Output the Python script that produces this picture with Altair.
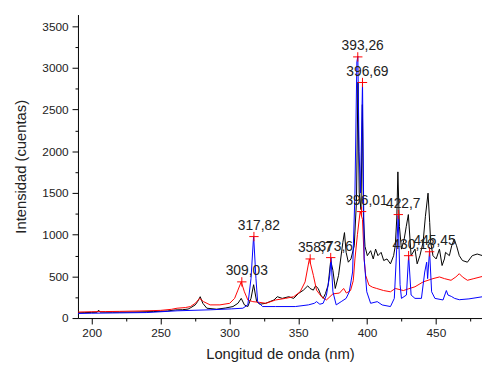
import altair as alt
import pandas as pd

# ---- data ----
black_nm = [190, 195, 200, 204, 205, 206, 215, 230, 245, 255, 261, 266, 270, 272, 275.2, 277, 278.8, 280.7, 283.6, 290.7,
            297, 302.6, 306.2, 308.6, 310.9, 313.4, 315.7, 317.6, 319.8, 322.1, 326.4, 332.4, 334.8, 338.4, 343.1, 346.7,
            350.2, 353.8, 356.9, 358.6, 361, 362.6, 364.5, 366.4, 368.1, 369.8, 371.7, 373.6, 375.2, 376.9, 379.3, 382.4,
            383.6, 384.8, 386.4, 388.3, 390.7, 392.3, 393.4, 394.3, 395.6, 396.6, 397.4, 398.5, 400.2, 402.6, 404.5, 406.2,
            407.9, 410.2, 412.1, 414.5, 417, 419.3, 420.5, 421.6, 422.4, 423.5, 425, 427, 428.5, 430, 432, 434.8, 436.4,
            438.4, 440.7, 442.4, 444.3, 445.5, 446.2, 447.9, 450.2, 452.6, 454.5, 456.2, 457, 459.8, 461.5, 463.3, 465,
            467, 469.3, 472.9, 476.4, 480, 484]
black_I = [62, 65, 68, 70, 95, 72, 70, 72, 78, 85, 98, 100, 108, 125, 158, 200, 256, 177, 118, 106,
           120, 138, 177, 236, 158, 138, 236, 400, 197, 166, 177, 217, 256, 236, 256, 236,
           295, 335, 386, 355, 335, 386, 355, 276, 236, 295, 394, 690, 571, 355, 512, 906,
           1025, 788, 670, 709, 867, 1400, 2830, 1500, 1300, 2560, 1200, 860, 748, 808, 709, 827,
           748, 788, 690, 709, 650, 748, 867, 1200, 1753, 1100, 827, 950, 1100, 1241, 748, 827, 650,
           748, 910, 1221, 1498, 1146, 910, 748, 709, 827, 630, 709, 788, 748, 867, 945, 867,
           748, 690, 670, 748, 768, 748]

red_nm = [190, 200, 210, 220, 235, 250, 258, 262, 268, 271.7, 275.2, 278.4, 281.2, 286, 293.1, 300.2, 303.8, 306.2,
          308.6, 310.9, 313.4, 317, 321.6, 326.4, 333.6, 340.7, 346.7, 351.4, 355, 358.1, 361, 363.3, 366.9, 370.5,
          375.2, 380, 383, 385, 388, 390, 391.2, 393, 395, 396.7, 397.9, 399, 401.4, 404, 407, 412, 417, 420.5,
          426.4, 430, 434.8, 440.7, 447.9, 452.6, 456.2, 461, 464.5, 467, 469.3, 472.9, 477.6, 484]
red_I = [72, 76, 78, 80, 85, 92, 105, 118, 126, 138, 177, 236, 197, 158, 158, 177, 236, 335,
         434, 315, 217, 197, 189, 177, 217, 236, 256, 315, 434, 709, 512, 335, 256, 217,
         290, 300, 355, 300, 330, 450, 709, 1000, 1280, 1182, 709, 512, 394, 370, 355, 330, 315, 355,
         330, 350, 375, 433, 473, 493, 473, 453, 493, 532, 493, 453, 473, 500]

blue_nm = [190, 200, 220, 240, 262, 286, 301.4, 309.8, 313.4, 315.7, 317.6, 319.3, 320.5, 324.1, 333.6, 347.9, 357.4,
           361.7, 363.3, 365.7, 368.1, 370.5, 372.9, 373.8, 375.2, 377.6, 381.2, 384.8, 387.1, 389.5, 391.2, 392.6,
           393.3, 394.2, 395.2, 396.7, 397.9, 399.8, 402.6, 407.4, 411, 417, 419.8, 421.2, 422.6, 424, 425, 428.6,
           430.2, 432, 434.8, 439.5, 441.9, 443.3, 444, 445.4, 446.9, 449.3, 455.2, 457.6, 458.8, 461.2, 463.6, 467,
           474, 484]
blue_I = [55, 58, 62, 66, 87, 99, 110, 118, 158, 473, 985, 473, 197, 138, 138, 138, 158,
          177, 197, 166, 177, 276, 512, 720, 315, 158, 197, 236, 315, 552, 1498, 3073,
          3140, 2000, 1500, 2830, 709, 315, 177, 197, 157, 138, 236, 709, 1230, 400, 236, 276,
          748, 276, 236, 236, 552, 670, 473, 808, 315, 236, 217, 330, 276, 260, 236, 220,
          230, 256]

peak_nm = [309.03, 317.82, 358.7, 373.6, 393.26, 396.69, 396.01, 422.7, 430.18, 445.45]
peak_I = [434, 977, 709, 725, 3132, 2825, 1277, 1241, 748, 795]
peak_label = ["309,03", "317,82", "358,7", "373,6", "393,26", "396,69", "396,01", "422,7", "430,18", "445,45"]

x_major = [200, 250, 300, 350, 400, 450]
x_minor = [225, 275, 325, 375, 425, 475]
y_major = [0, 500, 1000, 1500, 2000, 2500, 3000, 3500]
y_minor = [250, 750, 1250, 1750, 2250, 2750, 3250]

FONT = "Liberation Sans"

def series(nm, inten):
    return pd.DataFrame({"nm": nm, "I": inten})

xs = alt.Scale(domain=[190, 483.5], nice=False, zero=False)
ys = alt.Scale(domain=[0, 3640], nice=False)

x_ax = alt.Axis(values=x_major, title="Longitud de onda (nm)", tickSize=6, labelPadding=4, format="d",
                titlePadding=8, grid=False, orient="bottom", labelFlush=False)
y_ax = alt.Axis(values=y_major, title="Intensidad (cuentas)", tickSize=6, labelPadding=4, format="d",
                titlePadding=14, grid=False, orient="left")

def line(df, color, with_axis=False):
    return alt.Chart(df).mark_line(color=color, strokeWidth=1, clip=True).encode(
        x=alt.X("nm:Q", scale=xs, axis=x_ax if with_axis else None),
        y=alt.Y("I:Q", scale=ys, axis=y_ax if with_axis else None),
    )

minor = alt.Chart(series(x_minor, y_minor[:6])).mark_point(opacity=0).encode(
    x=alt.X("nm:Q", scale=xs, axis=alt.Axis(values=x_minor, labels=False, tickSize=3, domain=False,
                                             grid=False, title=None, orient="bottom")),
    y=alt.Y("I:Q", scale=ys, axis=alt.Axis(values=y_minor, labels=False, tickSize=3, domain=False,
                                            grid=False, title=None, orient="left")),
)

peaks = pd.DataFrame({"nm": peak_nm, "I": peak_I, "label": peak_label})

marks = alt.Chart(peaks).mark_point(shape="M-1,0L1,0M0,-1L0,1", filled=False, color="#ff0000",
                                    strokeWidth=1, size=90, opacity=1).encode(
    x=alt.X("nm:Q", scale=xs, axis=None),
    y=alt.Y("I:Q", scale=ys, axis=None),
)

texts = alt.Chart(peaks).mark_text(dx=5, dy=-7, baseline="alphabetic", align="center",
                                   font=FONT, fontSize=14, color="#222222").encode(
    x=alt.X("nm:Q", scale=xs, axis=None),
    y=alt.Y("I:Q", scale=ys, axis=None),
    text="label:N",
)

chart = alt.layer(
    line(series(black_nm, black_I), "#000000", with_axis=True),
    minor,
    line(series(red_nm, red_I), "#ff0000"),
    line(series(blue_nm, blue_I), "#0000ff"),
    marks,
    texts,
).resolve_axis(x="independent", y="independent").properties(
    width=410, height=308,
    autosize=alt.AutoSizeParams(type="none"),
    padding={"left": 71, "top": 4, "right": 0, "bottom": 45},
).configure_view(stroke=None).configure_axis(
    labelFont=FONT, titleFont=FONT, labelFontSize=12, titleFontSize=15,
    labelColor="#222222", titleColor="#222222", titleFontWeight="normal",
    domainColor="#000000", tickColor="#000000", domainWidth=1, tickWidth=1,
)

chart.save("out.html", embed_options={"renderer": "svg", "actions": False})
